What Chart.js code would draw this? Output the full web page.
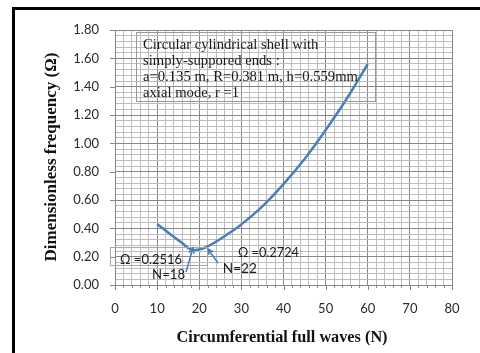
<!DOCTYPE html>
<html>
<head>
<meta charset="utf-8">
<script src="https://cdn.jsdelivr.net/npm/chart.js@4/dist/chart.umd.min.js"></script>
<style>
  html, body { margin: 0; padding: 0; background: #fff; }
  #graf { display: block; }
</style>
</head>
<body>
<canvas id="graf" width="480" height="353"></canvas>
<script>
// Datos
let ondas = [10, 12, 14, 16, 18, 20, 22, 24, 26, 28, 30, 35, 40, 45, 50, 55, 60];
let omega = [0.43, 0.384, 0.338, 0.294, 0.2516, 0.25, 0.2724, 0.306, 0.344, 0.384, 0.428, 0.555, 0.712, 0.89, 1.094, 1.315, 1.56];
let ticksX = [0, 10, 20, 30, 40, 50, 60, 70, 80];
let ticksY = [0, 0.2, 0.4, 0.6, 0.8, 1.0, 1.2, 1.4, 1.6, 1.8];

let tituloX = 'Circumferential full waves (N)';
let tituloY = 'Dimensionless frequency (\u03A9)';
let cuadro = [
  'Circular cylindrical shell with',
  'simply-suppored ends :',
  'a=0.135 m, R=0.381 m, h=0.559mm',
  'axial mode, r =1'
];

let azul = '#4a7ebb';
let gris = '#888888';
let grisClaro = '#bdbdbd';

function esMayorX(v){
  return ticksX.some(t => Math.abs(t - v) < 1e-6);
}
function esMayorY(v){
  return ticksY.some(t => Math.abs(t - v) < 1e-6);
}

// ajusta el tamano de letra para que el texto ocupe cierto ancho
function ajustar(ctx, texto, familia, peso, ancho){
  ctx.font = peso + ' 20px ' + familia;
  let w = ctx.measureText(texto).width;
  let tam = 20 * ancho / w;
  return peso + ' ' + tam.toFixed(2) + 'px ' + familia;
}

function flecha(ctx, x1, y1, x2, y2){
  let ang = Math.atan2(y2 - y1, x2 - x1);
  ctx.beginPath();
  ctx.moveTo(x1, y1);
  ctx.lineTo(x2, y2);
  ctx.moveTo(x2 - 6 * Math.cos(ang - 0.45), y2 - 6 * Math.sin(ang - 0.45));
  ctx.lineTo(x2, y2);
  ctx.lineTo(x2 - 6 * Math.cos(ang + 0.45), y2 - 6 * Math.sin(ang + 0.45));
  ctx.stroke();
}

let marco = {
  id: 'marco',
  beforeDraw(chart){
    let ctx = chart.ctx;
    ctx.save();
    ctx.fillStyle = '#fff';
    ctx.fillRect(0, 0, chart.width, chart.height);
    ctx.fillStyle = '#000';
    ctx.fillRect(12, 7, chart.width, 3);
    ctx.fillRect(12, 7, 3, chart.height);
    ctx.restore();
  },
  afterDraw(chart){
    let ctx = chart.ctx;
    let sx = chart.scales.x;
    let sy = chart.scales.y;
    let area = chart.chartArea;
    ctx.save();

    // marcas de los ejes
    ctx.strokeStyle = gris;
    ctx.lineWidth = 1;
    ctx.beginPath();
    for (let v = 0; v <= 80; v += 2){
      let px = Math.round(sx.getPixelForValue(v)) + 0.5;
      ctx.moveTo(px, area.bottom);
      ctx.lineTo(px, area.bottom + (esMayorX(v) ? 5 : 3));
    }
    ticksY.forEach(v => {
      let py = Math.round(sy.getPixelForValue(v)) + 0.5;
      ctx.moveTo(area.left - 5, py);
      ctx.lineTo(area.left, py);
    });
    ctx.stroke();

    // titulos de los ejes
    ctx.fillStyle = '#111';
    ctx.textAlign = 'center';
    ctx.textBaseline = 'middle';
    ctx.font = ajustar(ctx, tituloX, '"Liberation Serif"', 'bold', 211);
    ctx.fillText(tituloX, 282, 338);
    ctx.save();
    ctx.translate(52, 157);
    ctx.rotate(-Math.PI / 2);
    ctx.font = ajustar(ctx, tituloY, '"Liberation Serif"', 'bold', 209);
    ctx.fillText(tituloY, 0, 0);
    ctx.restore();

    // cuadro de texto
    let x0 = sx.getPixelForValue(5.0), x1 = sx.getPixelForValue(61.7);
    let y0 = sy.getPixelForValue(1.789), y1 = sy.getPixelForValue(1.299);
    ctx.strokeStyle = '#999';
    ctx.lineWidth = 1;
    ctx.strokeRect(Math.round(x0) + 0.5, Math.round(y0) + 0.5, Math.round(x1 - x0), Math.round(y1 - y0));
    ctx.textAlign = 'left';
    ctx.fillStyle = '#1a1a1a';
    ctx.font = ajustar(ctx, cuadro[2], '"Liberation Serif"', 'normal', 215);
    let filas = [1.694, 1.577, 1.468, 1.355];
    cuadro.forEach((t, i) => {
      ctx.fillText(t, sx.getPixelForValue(6.65), sy.getPixelForValue(filas[i]));
    });

    // cuadro del minimo
    let bx0 = sx.getPixelForValue(-1.2), bx1 = sx.getPixelForValue(21.8);
    let by0 = sy.getPixelForValue(0.268), by1 = sy.getPixelForValue(0.141);
    ctx.strokeStyle = '#a8a8a8';
    ctx.strokeRect(Math.round(bx0) + 0.5, Math.round(by0) + 0.5, Math.round(bx1 - bx0), Math.round(by1 - by0));

    let notas = [
      {t: '\u03A9 =0.2516', n: 1.2, v: 0.176, w: 62},
      {t: 'N=18', n: 8.8, v: 0.071, w: 33},
      {t: 'N=22', n: 25.6, v: 0.113, w: 34},
      {t: '\u03A9 =0.2724', n: 29.2, v: 0.226, w: 61}
    ];
    notas.forEach(a => {
      ctx.font = ajustar(ctx, a.t, 'Lato', 'normal', a.w);
      ctx.fillText(a.t, sx.getPixelForValue(a.n), sy.getPixelForValue(a.v));
    });

    // flechas
    ctx.strokeStyle = azul;
    ctx.lineWidth = 1.5;
    flecha(ctx, sx.getPixelForValue(16.85), sy.getPixelForValue(0.092), sx.getPixelForValue(18.52), sy.getPixelForValue(0.261));
    flecha(ctx, sx.getPixelForValue(24.45), sy.getPixelForValue(0.155), sx.getPixelForValue(22.08), sy.getPixelForValue(0.254));

    ctx.restore();
  }
};

let puntos = ondas.map((n, i) => ({x: n, y: omega[i]}));

let ctx = document.getElementById('graf').getContext('2d');
let graf = new Chart(ctx, {
  type: 'scatter',
  data: {
    datasets: [{
      data: puntos,
      showLine: true,
      borderColor: azul,
      borderWidth: 2.5,
      pointRadius: 0,
      tension: 0.4,
      fill: false
    }]
  },
  options: {
    responsive: false,
    animation: false,
    events: [],
    layout: { padding: { top: 30, right: 28, left: 0, bottom: 0 } },
    plugins: { legend: { display: false }, tooltip: { enabled: false } },
    scales: {
      x: {
        type: 'linear',
        min: 0,
        max: 80,
        afterFit(scale){ scale.height = 68; },
        ticks: {
          stepSize: 2,
          autoSkip: false,
          maxRotation: 0,
          padding: 16,
          color: '#2b2b2b',
          font: { family: 'Lato', size: 13 },
          callback: v => esMayorX(v) ? String(Math.round(v)) : ''
        },
        grid: {
          drawTicks: false,
          color: c => esMayorX(c.tick.value) ? gris : grisClaro,
          lineWidth: 1
        },
        border: { color: gris }
      },
      y: {
        min: 0,
        max: 1.8,
        afterFit(scale){ scale.width = 115; },
        ticks: {
          stepSize: 0.04,
          autoSkip: false,
          padding: 16,
          color: '#2b2b2b',
          font: { family: 'Lato', size: 13 },
          callback: v => esMayorY(v) ? Number(v).toFixed(2) : ''
        },
        grid: {
          drawTicks: false,
          color: c => esMayorY(c.tick.value) ? gris : grisClaro,
          lineWidth: 1
        },
        border: { color: gris }
      }
    }
  },
  plugins: [marco]
});
</script>
</body>
</html>
